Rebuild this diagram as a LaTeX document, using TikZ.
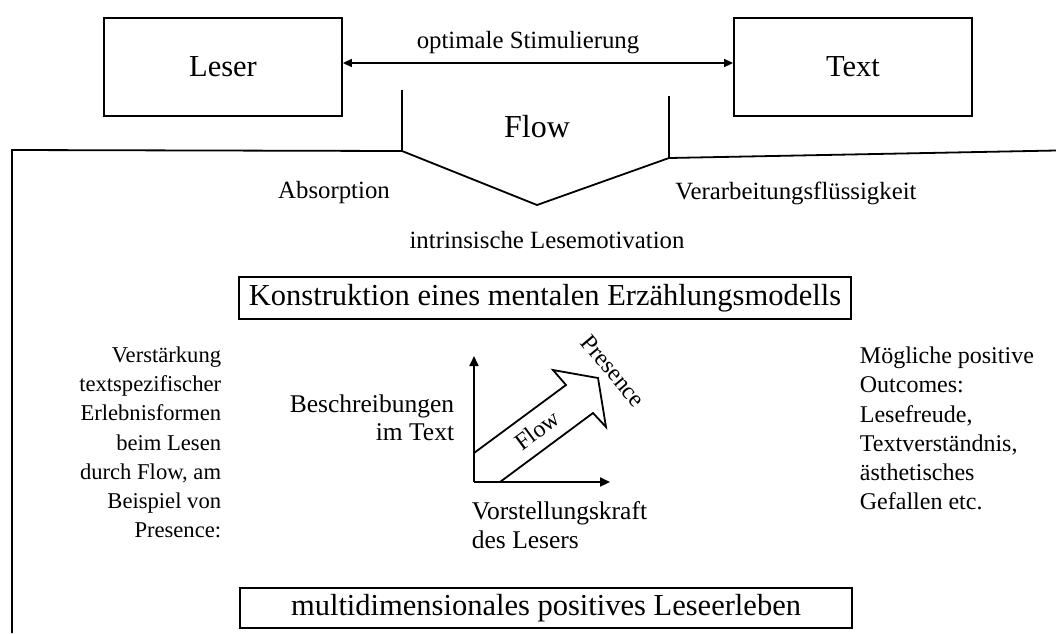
\documentclass[tikz,border=0pt]{standalone}
\usepackage{fontspec}
\setmainfont{Liberation Serif}
\usetikzlibrary{arrows.meta}
\begin{document}
\begin{tikzpicture}[x=1pt,y=-1pt,
  line width=1.8pt,
  bigbox/.style={draw, line width=1.8pt, inner sep=0pt, font=\fontsize{30.5}{36}\selectfont},
  bigtxt/.style={inner sep=0pt, font=\fontsize{32}{38}\selectfont},
  lbl/.style={inner sep=0pt, font=\fontsize{24.8}{29}\selectfont},
  sidel/.style={inner sep=0pt, align=right, font=\fontsize{22.6}{29.2}\selectfont},
  sider/.style={inner sep=0pt, align=left, font=\fontsize{24}{29.3}\selectfont},
  axlbl/.style={inner sep=0pt, font=\fontsize{25.5}{28.5}\selectfont},
  inlbl/.style={inner sep=0pt, font=\fontsize{24}{28}\selectfont},
  tip/.style={-{Triangle[length=10pt,width=9pt]}},
  twotip/.style={{Triangle[length=9pt,width=8pt]}-{Triangle[length=9pt,width=8pt]}},
]
\useasboundingbox (0,0) rectangle (1056,633);

% reader and text boxes with the stimulation arrow
\coordinate (lvl) at (0,63);
\node[bigbox, minimum width=238pt, minimum height=98pt] (leser) at (223,67) {Leser};
\node[bigbox, minimum width=238pt, minimum height=98pt] (text) at (853,67) {Text};
\draw[twotip, line width=1.6pt] (leser.east |- lvl) -- (text.west |- lvl);
\node[lbl] (stim) at (528,43) {optimale Stimulierung};

% flow funnel
\coordinate (fl1) at (402,90);
\coordinate (fl2) at (402,151);
\coordinate (vb)  at (537,205);
\coordinate (fr2) at (669,158);
\coordinate (fr1) at (669,96);
\coordinate (ll)  at (12,150);
\coordinate (lb)  at (12,633);
\coordinate (rr)  at (1056,150.5);
\draw[line join=miter] (fl1) -- (fl2) -- (vb) -- (fr2) -- (fr1);
\draw (lb) -- (ll) -- (fl2);
\draw (fr2) -- (rr);
\node[bigtxt] (flow) at (537,127) {Flow};

\node[lbl] (abs) at (334,193) {Absorption};
\node[lbl] (verarb) at (796,193) {Verarbeitungsflüssigkeit};
\node[lbl] (intr) at (547,240) {intrinsische Lesemotivation};

% narrative model box
\node[bigbox, minimum width=612pt, minimum height=42pt] (konstr) at (545,298) {Konstruktion eines mentalen Erzählungsmodells};

% side texts
\node[sidel, anchor=east] (links) at (222,442.5) {Verstärkung\\textspezifischer\\Erlebnisformen\\beim Lesen\\durch Flow, am\\Beispiel von\\Presence:};
\node[sider, anchor=west] (rechts) at (859,428.5) {Mögliche positive\\Outcomes:\\Lesefreude,\\Textverständnis,\\ästhetisches\\Gefallen etc.};

% presence diagram
\coordinate (o)    at (474,482);
\coordinate (ytop) at (474,356);
\coordinate (xend) at (610,482);
\draw[tip, line width=2pt] (o) -- (ytop);
\draw[tip, line width=2pt] (o) -- (xend);

\coordinate (a1) at (474,453);
\coordinate (a2) at (566,385);
\coordinate (a3) at (553,370);
\coordinate (a4) at (598,378);
\coordinate (a5) at (606,427);
\coordinate (a6) at (593,413);
\coordinate (a7) at (500,482);
\draw[line join=miter] (a1) -- (a2) -- (a3) -- (a4) -- (a5) -- (a6) -- (a7);
\node[inlbl, rotate=36.5] (aflow) at (537,430) {Flow};
\node[inlbl, rotate=-50] (pres) at (613,371) {Presence};

\node[axlbl, align=right, anchor=east] (beschr) at (455,418) {Beschreibungen\\im Text};
\node[axlbl, align=left, anchor=west] (vorst) at (471,525) {Vorstellungskraft\\des Lesers};

% overall experience box
\node[bigbox, minimum width=612pt, minimum height=40pt] (multi) at (546,608) {multidimensionales positives Leseerleben};
\end{tikzpicture}
\end{document}
